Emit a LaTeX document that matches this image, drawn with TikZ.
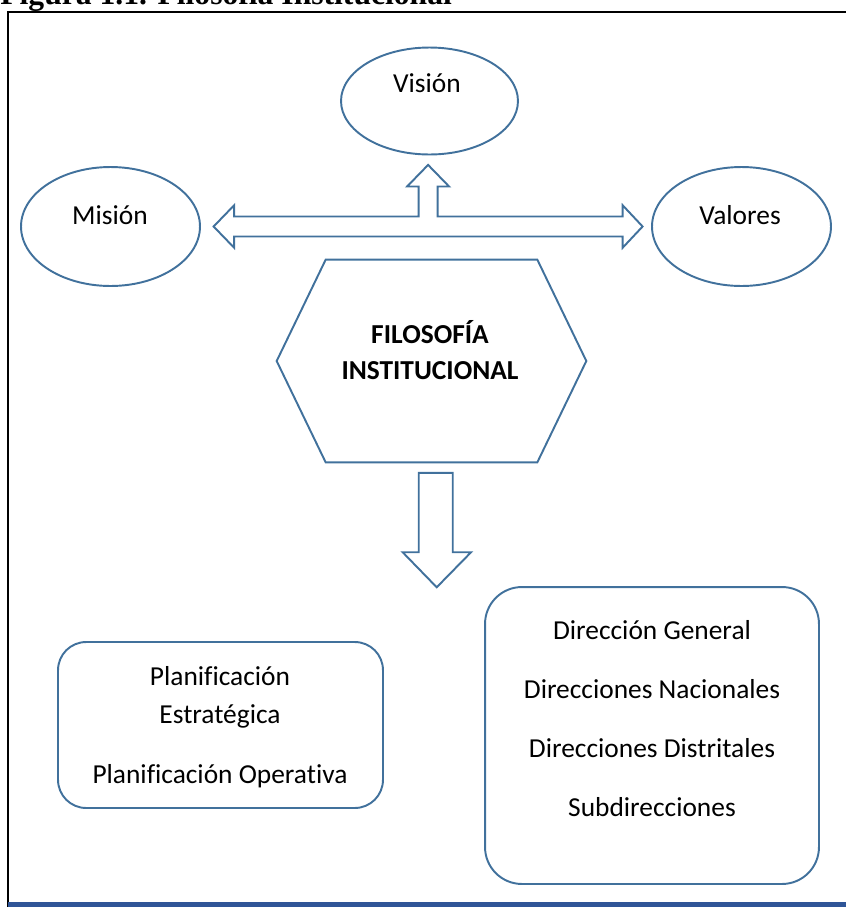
\documentclass[tikz,border=0pt]{standalone}
\usepackage{fontspec}
\setmainfont{Carlito}[Ligatures=NoCommon]
\newfontfamily\capfont{Liberation Serif}
\usetikzlibrary{shapes.geometric,positioning}

\definecolor{shapeblue}{RGB}{65,113,156}
\definecolor{barblue}{RGB}{47,85,151}

\begin{document}
\begin{tikzpicture}[x=0.02cm, y=-0.02cm,
        oval/.style={ellipse, draw=shapeblue, line width=1.1pt, inner sep=0pt},
        hexbox/.style={rectangle, inner sep=0pt, minimum width=6.18cm, minimum height=4.04cm},
        hexline/.style={draw=shapeblue, line width=1.1pt, line join=miter},
        roundbox/.style={rectangle, draw=shapeblue, line width=1.1pt, inner sep=0pt},
        txt/.style={inner sep=0pt, align=center, font={\fontsize{15.6}{20.4}\selectfont}},
        blockarrow/.style={draw=shapeblue, line width=1.1pt, line join=miter},
        frame/.style={line width=1pt}
    ]
    \useasboundingbox (0,0) rectangle (846,907);

    % Caption (cut off at the top)
    \begin{scope}
        \clip (0,0) rectangle (846,907);
        \node[anchor=base west, inner sep=0pt, font={\capfont\bfseries\fontsize{18}{20}\selectfont}] (caption) at (0,4.5) {Figura 1.1. Filosofía Institucional};
    \end{scope}

    % Frame
    \draw[frame] (846,12) -| (8,907);
    \fill[barblue] (8,901.5) rectangle (846,907);

    % Shapes
    \node[oval, minimum width=3.54cm, minimum height=2.14cm] (vision) at (429.5,101) {};
    \node[oval, minimum width=3.58cm, minimum height=2.38cm] (mision) at (110.5,226.5) {};
    \node[oval, minimum width=3.58cm, minimum height=2.38cm] (valores) at (741.5,226.5) {};
    \node[hexbox] (filo) at (431.5,361) {};
    \draw[hexline] (filo.west) -- ([xshift=0.98cm]filo.north west) -- ([xshift=-0.98cm]filo.north east)
        -- (filo.east) -- ([xshift=-0.98cm]filo.south east) -- ([xshift=0.98cm]filo.south west) -- cycle;
    \node[roundbox, rounded corners=16pt, minimum width=6.5cm, minimum height=3.32cm] (plan) at (220.5,725) {};
    \node[roundbox, rounded corners=21pt, minimum width=6.68cm, minimum height=5.94cm] (dir) at (652,735.5) {};

    % Texts
    \node[txt] (vision-txt) at (427,83) {Visión};
    \node[txt] (mision-txt) at (110,215) {Misión};
    \node[txt] (valores-txt) at (740,215) {Valores};
    \node[txt, font={\fontsize{15.6}{20.4}\selectfont\bfseries}] (filo-txt) at (430,350) {FILOSOFÍA\\INSTITUCIONAL};
    \node[txt, font={\fontsize{15.6}{22.1}\selectfont}] (plan-txt) at (220,727) {Planificación\\Estratégica\\[11.9pt]Planificación Operativa};
    \node[txt, font={\fontsize{15.6}{33.6}\selectfont}] (dir-txt) at (652,719) {Dirección General\\Direcciones Nacionales\\Direcciones Distritales\\Subdirecciones};

    % Block arrows
    \coordinate (tipW) at ([xshift=7.2pt]mision.east);
    \draw[blockarrow] (tipW) -- ++(20.6,-21.3) -- ++(0,11.3) -- ++(184.4,0) -- ++(0,-30) -- ++(-11.5,0)
        -- ++(21,-21.6) -- ++(21,21.6) -- ++(-11.5,0) -- ++(0,30) -- ++(185,0) -- ++(0,-11.3)
        -- ++(20,21.3) -- ++(-20,21.3) -- ++(0,-11.3) -- ++(-388.4,0) -- ++(0,11.3) -- cycle;

    \coordinate (down) at ([xshift=2.4pt, yshift=-6pt]filo.south);
    \draw[blockarrow] (down) ++(-17,0) -- ++(34,0) -- ++(0,79.4) -- ++(18.3,0) -- ++(-34.3,35)
        -- ++(-34,-35) -- ++(16,0) -- cycle;

\end{tikzpicture}
\end{document}
